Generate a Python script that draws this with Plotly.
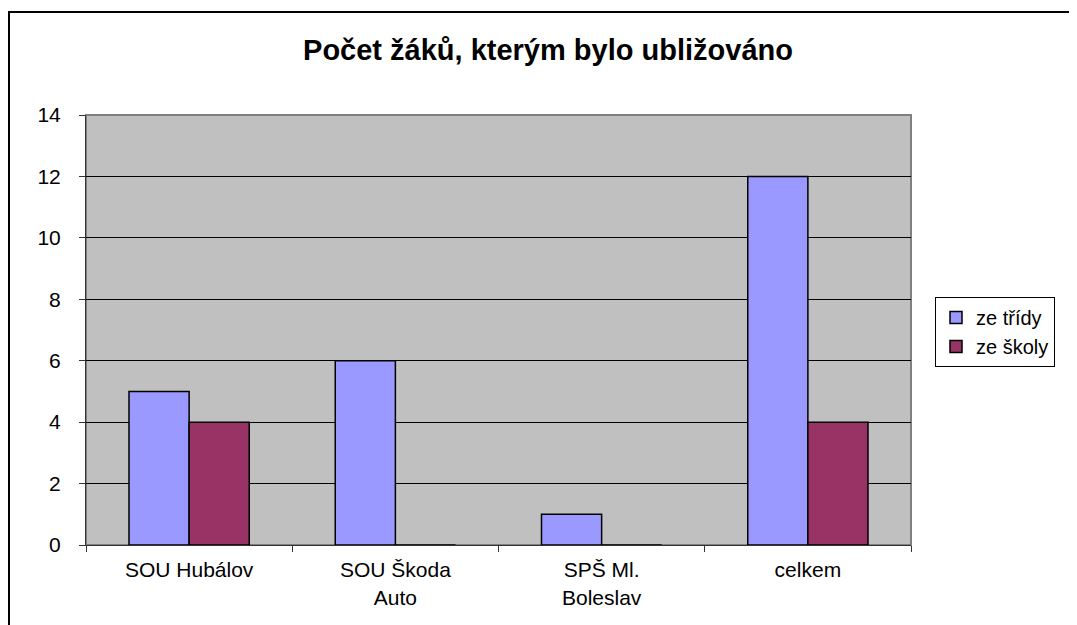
import plotly.graph_objects as go

categories = ["SOU Hubálov", "SOU Škoda<br>Auto", "SPŠ Ml.<br>Boleslav", "celkem"]
ze_tridy = [5, 6, 1, 12]
ze_skoly = [4, 0, 0, 4]
series_names = ["ze třídy", "ze školy"]
y_ticks = [0, 2, 4, 6, 8, 10, 12, 14]

W, H = 1077, 625
OFF = 8  # page body margin
L, R, T, B = 86 - OFF, 1077 - 911 + OFF, 115 - OFF, 625 - 545 + OFF
pw, ph = W - L - R, H - T - B

fig = go.Figure()
fig.add_trace(go.Bar(x=categories, y=ze_tridy, name=series_names[0],
                     marker=dict(color="#9999FF", line=dict(color="black", width=1.5))))
fig.add_trace(go.Bar(x=categories, y=ze_skoly, name=series_names[1],
                     marker=dict(color="#993366", line=dict(color="black", width=1.5))))

def px(x):  # screen x -> paper
    return (x - OFF - L) / pw

def py(y):  # screen y -> paper
    return (H - B - (y - OFF)) / ph

shapes = [
    dict(type="rect", xref="paper", yref="paper", x0=0, x1=1, y0=0, y1=1,
         line=dict(color="#808080", width=2), layer="below"),
    dict(type="rect", xref="paper", yref="paper", x0=px(9), x1=px(1100), y0=py(660), y1=py(12),
         line=dict(color="black", width=2), fillcolor="rgba(0,0,0,0)", layer="above"),
]

fig.update_layout(
    width=W, height=H,
    margin=dict(l=L, r=R, t=T, b=B, pad=0, autoexpand=False),
    paper_bgcolor="white", plot_bgcolor="#C0C0C0",
    barmode="group", bargap=0.417, bargroupgap=0,
    font=dict(family="Arial, Liberation Sans, sans-serif", size=20, color="black"),
    title=dict(text="<b>Počet žáků, kterým bylo ubližováno</b>", x=(548 - OFF) / W, xanchor="center",
               y=1 - (50 - OFF) / H, yanchor="middle", font=dict(size=29, color="black")),
    showlegend=True,
    legend=dict(x=px(935), y=py(297), xanchor="left", yanchor="top",
                bordercolor="black", borderwidth=1, bgcolor="white",
                font=dict(size=20), itemwidth=30, tracegroupgap=0),
    shapes=shapes,
)
fig.update_yaxes(range=[0, 14], tickvals=y_ticks, showgrid=True, gridcolor="black", gridwidth=1,
                 showline=True, linecolor="#333333", linewidth=1, ticks="outside", ticklen=6,
                 tickcolor="#333333", zeroline=False, ticklabelstandoff=14,
                 tickfont=dict(size=21))
fig.update_xaxes(showline=True, linecolor="#333333", linewidth=1, ticks="outside", ticklen=6,
                 tickcolor="#333333", tickson="boundaries", showgrid=False, ticklabelstandoff=6,
                 tickfont=dict(size=21))

fig.write_html("out.html")
